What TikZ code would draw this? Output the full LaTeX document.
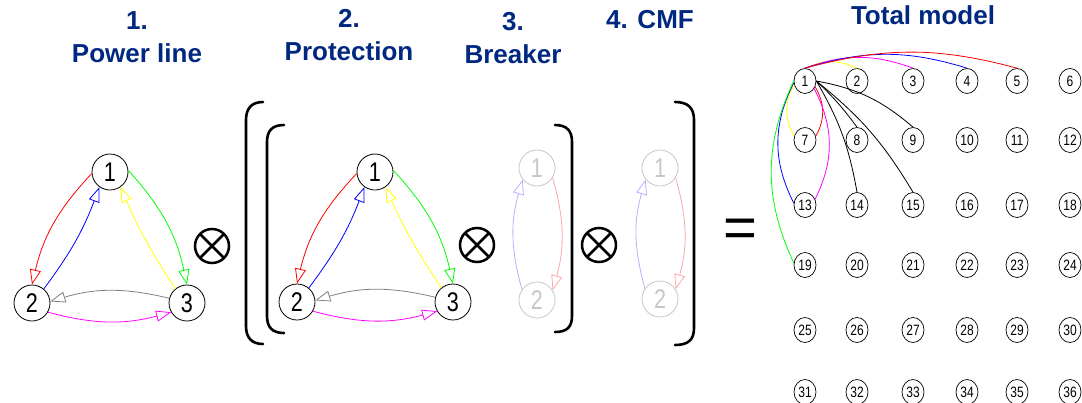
\documentclass[tikz,border=0pt]{standalone}
\usepackage{fontspec}
\setmainfont{Liberation Sans}
\newfontfamily\cadfont[FakeStretch=0.8]{Liberation Sans}
\usepackage{xcolor}
\definecolor{colorTitle}{RGB}{0,40,128}
\definecolor{lineRed}{RGB}{255,0,0}
\definecolor{lineBlue}{RGB}{0,0,255}
\definecolor{lineGreen}{RGB}{0,255,0}
\definecolor{lineYellow}{RGB}{255,255,0}
\definecolor{lineMagenta}{RGB}{255,0,255}
\definecolor{lineGray}{RGB}{128,128,128}
\colorlet{colorFaded}{black!22}
\colorlet{colorFadedRed}{lineRed!35}
\colorlet{colorFadedBlue}{lineBlue!30}
\usepackage{tikz}
\usetikzlibrary{arrows.meta, automata, shapes.geometric}
\tikzset{
  title/.style={font=\bfseries\fontsize{26}{33}\selectfont, text=colorTitle, align=center},
  every state/.style={minimum size=36pt, inner sep=0pt, line width=0.8pt, font=\cadfont\fontsize{27}{27}\selectfont},
  faded/.style={draw=colorFaded, text=colorFaded},
  cell/.style={ellipse, draw, minimum width=22pt, minimum height=25pt, inner sep=0pt, line width=0.7pt, font=\cadfont\fontsize{15}{15}\selectfont},
  otimes/.style={circle, draw, line width=2.5pt, minimum size=34pt, inner sep=0pt,
    path picture={\draw[line width=2.5pt] (path picture bounding box.north west) -- (path picture bounding box.south east)
      (path picture bounding box.south west) -- (path picture bounding box.north east);}},
  bracket/.style={line width=2.6pt, line cap=round}
}

\begin{document}
\begin{tikzpicture}[x=1pt, y=1pt, >={Triangle[open, length=15pt, width=11pt]}, line width=0.8pt]
\useasboundingbox (0,0) rectangle (1082,-402);

% titles
\node[title] (h1) at (137,-37) {1.\\Power line};
\node[title] (h2) at (349,-35) {2.\\Protection};
\node[title] (h3) at (513,-38) {3.\\Breaker};
\node[title] (h4) at (650,-20) {4. CMF};
\node[title] (h5) at (923,-15) {Total model};

% power line
\node[state] (pl1) at (110,-172) {1};
\node[state] (pl2) at (32,-303) {2};
\node[state] (pl3) at (187,-303) {3};
\draw [->, lineRed] (pl1.185) to [bend right=15] (pl2.90);
\draw [->, lineBlue] (pl2.50) to [bend right=8] (pl1.235);
\draw [->, lineGreen] (pl1.5) to [bend left=15] (pl3.90);
\draw [->, lineYellow] (pl3.129) to [bend left=5] (pl1.305);
\draw [->, lineGray] (pl3.165) to [bend right=15] (pl2.5);
\draw [->, lineMagenta] (pl2.-30) to [bend right=15] (pl3.210);

\node[otimes] (ox1) at (212,-246) {};

% protection
\node[state] (pr1) at (375,-172) {1};
\node[state] (pr2) at (297,-302) {2};
\node[state] (pr3) at (453,-302) {3};
\draw [->, lineRed] (pr1.185) to [bend right=15] (pr2.90);
\draw [->, lineBlue] (pr2.50) to [bend right=8] (pr1.235);
\draw [->, lineGreen] (pr1.5) to [bend left=15] (pr3.90);
\draw [->, lineYellow] (pr3.129) to [bend left=5] (pr1.305);
\draw [->, lineGray] (pr3.165) to [bend right=15] (pr2.5);
\draw [->, lineMagenta] (pr2.-30) to [bend right=15] (pr3.210);

\node[otimes] (ox2) at (477,-245) {};

% breaker
\node[state, faded] (br1) at (537,-168) {1};
\node[state, faded] (br2) at (537,-300) {2};
\draw [->, colorFadedBlue] (br2.145) to [bend left=16] (br1.219);
\draw [->, colorFadedRed] (br1.-32) to [bend left=16] (br2.32);

\node[otimes] (ox3) at (599,-245) {};

% CMF
\node[state, faded] (cm1) at (660,-168) {1};
\node[state, faded] (cm2) at (660,-299) {2};
\draw [->, colorFadedBlue] (cm2.145) to [bend left=16] (cm1.219);
\draw [->, colorFadedRed] (cm1.-32) to [bend left=16] (cm2.32);

% brackets
\draw[bracket] (263,-102) .. controls (252,-102) and (246,-108) .. (246,-120) -- (246,-326) .. controls (246,-338) and (252,-344) .. (263,-344);
\draw[bracket] (284,-125) .. controls (272,-125) and (267,-131) .. (267,-142) -- (267,-316) .. controls (267,-327) and (272,-333) .. (284,-333);
\draw[bracket] (555,-125) .. controls (567,-125) and (572,-131) .. (572,-142) -- (572,-316) .. controls (572,-327) and (567,-332) .. (555,-332);
\draw[bracket] (675,-102) .. controls (688,-102) and (694,-108) .. (694,-120) -- (694,-328) .. controls (694,-340) and (688,-345) .. (675,-345);

\node[font=\fontsize{58}{58}\selectfont] (eq) at (740,-233) {=};

% total model
\foreach \c/\x in {0/805,1/857,2/913,3/967,4/1017,5/1070}
  \foreach \r/\y in {0/81,1/140,2/205,3/265,4/330,5/392} {
    \pgfmathtruncatemacro\n{6*\r+\c+1}
    \node[cell] (g\n) at (\x,-\y) {\n};
  }
\draw [lineYellow] (g1.north) to [bend left=25] (g2.north);
\draw [lineMagenta] (g1.north) to [bend left=20] (g3.north);
\draw [lineBlue] (g1.north) to [bend left=17] (g4.north);
\draw [lineRed] (g1.north) to [bend left=15] (g5.north);
\draw [lineYellow] (g1.200) to [bend right=30] (g7.160);
\draw [lineRed] (g1.-30) to [bend left=30] (g7.20);
\draw [lineBlue] (g1.190) to [bend right=27] (g13.170);
\draw [lineMagenta] (g1.-40) to [bend left=27] (g13.30);
\draw [lineGreen] (g1.180) to [bend right=25] (g19.170);
\draw (g1.east) to [bend left=5] (g8.north);
\draw (g1.east) to [bend left=15] (g9.north);
\draw (g1.east) to [bend left=10] (g14.north);
\draw (g1.east) to [bend left=10] (g15.north);
\end{tikzpicture}
\end{document}
